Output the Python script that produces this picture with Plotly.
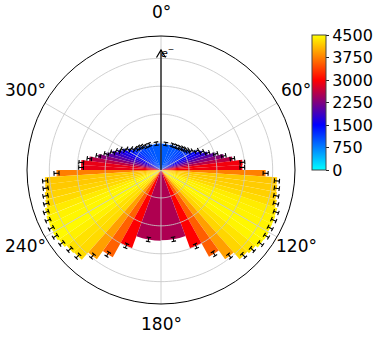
import numpy as np
import plotly.graph_objects as go

# angular bins: 32 bins uniform in cos(theta) on 0-180 deg, mirrored on 180-360
n_bins = 32
cos_edges = np.linspace(1, -1, n_bins + 1)
theta_edges = np.degrees(np.arccos(cos_edges))

# counts per bin, right half (0 -> 180 deg) and left half (360 -> 180 deg)
counts_right = [950, 980, 1000, 1030, 1080, 1120, 1180, 1260, 1450, 1600, 1770, 2040,
                2300, 2590, 2930, 2915, 3750, 4170, 4200, 4230, 4290, 4390, 4420, 4430,
                4460, 4440, 4340, 4260, 3940, 3550, 3000, 2520]
counts_left = [960, 1000, 1010, 1075, 1120, 1155, 1250, 1380, 1550, 1675, 1840, 2040,
               2300, 2600, 2870, 2865, 3745, 4170, 4185, 4240, 4285, 4380, 4430, 4450,
               4470, 4420, 4330, 4290, 3940, 3570, 2990, 2530]
err_right = [60, 60, 60, 60, 60, 60, 65, 65, 70, 70, 75, 75,
             80, 80, 85, 85, 90, 90, 90, 90, 90, 90, 90, 90,
             90, 90, 90, 90, 85, 85, 80, 75]
err_left = [60, 60, 60, 60, 60, 60, 65, 65, 70, 70, 75, 75,
            80, 80, 85, 85, 90, 90, 90, 90, 90, 90, 90, 90,
            90, 90, 90, 90, 85, 85, 80, 75]

cbar_ticks = [0, 750, 1500, 2250, 3000, 3750, 4500]
ang_ticks = [0, 60, 120, 180, 240, 300]
ang_labels = ["0°", "60°", "120°", "180°", "240°", "300°"]
grid_r = [1000, 2000, 3000, 4000]

R_MAX = 4800
W, H = 382, 340
CX, CY, RAD = 161, 170, 134    # polar centre / radius in window px
LABEL_R = 156                  # angular labels centred at this radius (px)
px_per_unit = RAD / R_MAX


def px(x, y):
    # window pixel -> paper coords
    return x / W, 1 - y / H


centers = (theta_edges[:-1] + theta_edges[1:]) / 2
widths = np.diff(theta_edges)

theta = list(centers) + list(360 - centers)
width = list(widths) + list(widths)
r = counts_right + counts_left
err = err_right + err_left

cscale = [[0, "#00ffff"], [1/3, "#0000ff"], [2/3, "#ff0000"], [1, "#ffff00"]]

cb_x, cb_y = px(312, 35)
fig = go.Figure()
fig.add_trace(go.Barpolar(
    r=r, theta=theta, width=width,
    marker=dict(color=r, colorscale=cscale, cmin=0, cmax=4500,
                line=dict(width=0),
                colorbar=dict(tickvals=cbar_ticks, x=cb_x, xanchor="left",
                              y=cb_y, yanchor="top", len=135 / H, lenmode="fraction",
                              thickness=14, outlinewidth=1, outlinecolor="#444",
                              ticks="outside", ticklen=3, tickcolor="#222",
                              tickfont=dict(size=16, color="black"), xpad=0, ypad=0)),
    showlegend=False, hoverinfo="skip",
))

# grid drawn on top of the bars (like matplotlib)
gr, gt = [], []
ring = list(np.arange(0, 361, 2))
for g in grid_r:
    gr += [g] * len(ring) + [None]
    gt += ring + [None]
for a in ang_ticks:
    gr += [0, R_MAX, None]
    gt += [a, a, None]
fig.add_trace(go.Scatterpolar(r=gr, theta=gt, mode="lines",
                              line=dict(color="rgba(200,200,200,0.85)", width=1),
                              showlegend=False, hoverinfo="skip"))

# error bars
er, et = [], []
for t, v, e in zip(theta, r, err):
    er += [v - e, v + e, None]
    et += [t, t, None]
    for rr in (v - e, v + e):
        d = np.degrees(2.3 / (rr * px_per_unit))
        er += [rr, rr, None]
        et += [t - d, t + d, None]
fig.add_trace(go.Scatterpolar(r=er, theta=et, mode="lines",
                              line=dict(color="black", width=1.1),
                              showlegend=False, hoverinfo="skip"))

# angular tick labels, centred around the circle like matplotlib
for a, lab in zip(ang_ticks, ang_labels):
    ang = np.radians(a)
    lx, ly = px(CX + LABEL_R * np.sin(ang), CY - LABEL_R * np.cos(ang) - 2)
    fig.add_annotation(x=lx, y=ly, xref="paper", yref="paper", showarrow=False,
                       text=lab, xanchor="center", yanchor="middle",
                       font=dict(size=17, color="black"))

# arrow for the beam direction
tip_y = 50
x0, y0 = px(CX, CY)
x1, y1 = px(CX, tip_y)
xa, ya = px(CX - 4.5, tip_y + 7.5)
xb, yb = px(CX + 4.5, tip_y + 7.5)
fig.add_shape(type="line", xref="paper", yref="paper", x0=x0, y0=y0, x1=x1, y1=y1,
              line=dict(color="black", width=1.2))
fig.add_shape(type="path", xref="paper", yref="paper",
              path=f"M {xa} {ya} L {x1} {y1} L {xb} {yb}",
              line=dict(color="black", width=1.2))
ex, ey = px(167, 43)
fig.add_annotation(x=ex, y=ey, xref="paper", yref="paper", showarrow=False,
                   text="<i>e</i><sup>−</sup>", font=dict(size=11, color="black"))

dx0, dy1 = px(CX - RAD, CY - RAD)
dx1, dy0 = px(CX + RAD, CY + RAD)
fig.update_layout(
    width=W, height=H,
    margin=dict(l=0, r=0, t=0, b=0),
    paper_bgcolor="white", plot_bgcolor="white",
    font=dict(family="DejaVu Sans", color="black"),
    polar=dict(
        domain=dict(x=[dx0, dx1], y=[dy0, dy1]),
        bgcolor="white",
        bargap=0,
        radialaxis=dict(range=[0, R_MAX], tickvals=grid_r, showticklabels=False,
                        showgrid=False, showline=False, ticks=""),
        angularaxis=dict(rotation=90, direction="clockwise", tickvals=ang_ticks,
                         showticklabels=False, showgrid=False, linecolor="black",
                         linewidth=1, ticks=""),
    ),
)

# drop the default page margin so the figure sits at the window's corner
fig.write_html("out.html", config={"displayModeBar": False},
               post_script="document.body.style.margin = '0';")
